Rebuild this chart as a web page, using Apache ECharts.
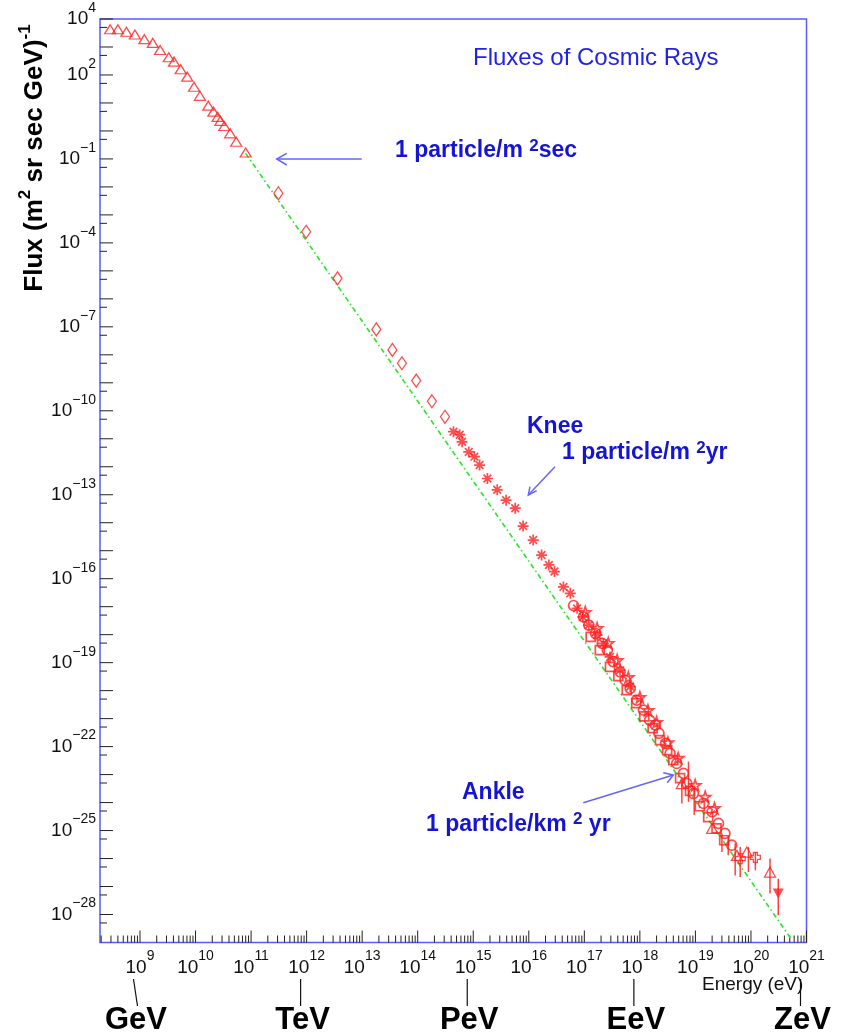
<!DOCTYPE html>
<html><head><meta charset="utf-8">
<script src="https://cdn.jsdelivr.net/npm/echarts@6/dist/echarts.min.js"></script>
<style>html,body{margin:0;padding:0;background:#fff}#c{width:844px;height:1035px}</style>
</head><body><div id="c"></div>
<script>
// Energy in eV, flux in (m^2 sr sec GeV)^-1
const triE = [2.9e8, 4.0e8, 5.7e8, 8.1e8, 1.2e9, 1.7e9, 2.3e9, 3.3e9, 4.1e9, 5.4e9, 7.1e9, 9.4e9, 1.2e10, 1.7e10, 2.1e10, 2.5e10, 2.8e10, 3.3e10, 4.2e10, 5.4e10, 8.0e10];
const triF = [4.3e3, 4.3e3, 3.5e3, 2.8e3, 1.9e3, 1.4e3, 7.8e2, 4.3e2, 3.0e2, 1.6e2, 87, 38, 18, 8.0, 4.9, 3.2, 2.3, 1.5, 0.82, 0.41, 0.17];

const diaE = [3.1e11, 9.8e11, 3.6e12, 1.8e13, 3.5e13, 5.2e13, 9.4e13, 1.8e14, 3.1e14];
const diaF = [5.9e-3, 2.5e-4, 5.4e-6, 8.1e-8, 1.5e-8, 5.0e-9, 1.2e-9, 2.2e-10, 6.1e-11];

const astE = [4.4e14, 5.7e14, 6.3e14, 8.3e14, 1.05e15, 1.3e15, 1.8e15, 2.7e15, 3.9e15, 5.7e15, 7.9e15, 1.2e16, 1.7e16, 2.3e16, 2.9e16, 4.2e16, 5.6e16, 7.4e16, 9.4e16, 1.2e17, 1.7e17, 2.2e17, 2.9e17, 4.4e17, 6.7e17];
const astF = [1.8e-11, 1.4e-11, 7.8e-12, 3.4e-12, 2.3e-12, 1.15e-12, 3.8e-13, 1.5e-13, 6.4e-14, 3.3e-14, 7.6e-15, 2.4e-15, 7.0e-16, 3.1e-16, 1.8e-16, 5.1e-17, 3.0e-17, 8.7e-18, 4.3e-18, 2.2e-18, 9.6e-19, 4.9e-19, 1.6e-19, 5.4e-20, 1.4e-20];

const circE = [6.4e16, 9.7e16, 1.2e17, 1.6e17, 2.1e17, 2.6e17, 3.3e17, 4.4e17, 5.4e17, 6.7e17, 8.8e17, 1.16e18, 1.5e18, 1.9e18, 2.2e18, 2.9e18, 3.5e18, 4.6e18, 6.1e18, 7.0e18, 9.2e18, 1.4e19, 2.0e19, 2.6e19, 3.4e19, 4.5e19];
const circF = [1.1e-17, 4.3e-18, 2.2e-18, 1.1e-18, 4.9e-19, 2.8e-19, 1.1e-19, 4.7e-20, 2.4e-20, 1.2e-20, 4.6e-21, 2.0e-21, 8.8e-22, 5.9e-22, 3.0e-22, 1.3e-22, 5.7e-23, 2.5e-23, 1.1e-23, 4.8e-24, 2.1e-24, 9.3e-25, 4.7e-25, 1.8e-25, 7.9e-26, 3.0e-26];

const sqE = [1.3e17, 1.9e17, 2.9e17, 4.1e17, 5.8e17, 8.6e17, 1.2e18, 1.7e18, 2.3e18, 3.1e18, 4.0e18, 5.3e18, 8.0e18, 1.2e19, 1.7e19, 2.4e19, 3.3e19];
const sqF = [8.4e-19, 2.8e-19, 7.1e-20, 3.3e-20, 1.04e-20, 3.6e-21, 1.2e-21, 4.6e-22, 1.7e-22, 7.5e-23, 3.3e-23, 7.5e-24, 2.6e-24, 7.4e-25, 3.0e-25, 1.2e-25, 4.5e-26];

const starE = [1.04e17, 1.7e17, 2.7e17, 3.9e17, 6.2e17, 1.0e18, 1.4e18, 2.0e18, 3.2e18, 4.9e18, 9.9e18, 1.5e19, 2.2e19];
const starF = [6.4e-18, 1.7e-18, 5.0e-19, 1.23e-19, 3.0e-20, 5.8e-21, 2.0e-21, 7.5e-22, 1.4e-22, 3.9e-23, 4.2e-24, 1.6e-24, 6.3e-25];

const otE = [5.7e18, 2.0e19, 5.6e19, 8.4e19, 2.2e20];
const otF = [4.8e-24, 1.2e-25, 1.3e-26, 1.7e-26, 3.3e-27];

const crE = [6.4e19, 1.2e20];
const crF = [1.0e-26, 1.1e-26];

const dnE = [3.1e20];
const dnF = [5.6e-28];

const errE  = [5.7e18, 7.5e18, 9.5e18, 3.0e19, 3.9e19, 5.2e19, 6.4e19, 9.0e19, 1.2e20, 2.2e20, 3.1e20];
const errHi = [4.8e-24, 2.9e-23, 3.6e-24, 7.9e-26, 6.0e-26, 3.5e-26, 2.6e-26, 2.6e-26, 1.7e-26, 1.0e-26, 1.9e-27];
const errLo = [9.3e-25, 1.06e-24, 3.6e-25, 1.7e-26, 1.3e-26, 2.5e-27, 2.2e-27, 3.3e-27, 3.8e-27, 5.6e-28, 9.5e-29];

const lineE = [8.0e10, 5.5e20];
const lineF = [0.158, 1.2e-29];

const unitNames = ['GeV', 'TeV', 'PeV', 'EeV', 'ZeV'];
const unitExp = [9, 12, 15, 18, 21];

// ---------------------------------------------------------------
const L = Math.log10;
const pairs = (E, F) => E.map((e, i) => [L(e), L(F[i])]);
const X_MIN = 8.28, X_MAX = 21, Y_MIN = -29, Y_MAX = 4;
const FONT = '"Liberation Sans", Arial, Helvetica, sans-serif';
const RED = '#ff1f1f';
const BLUE = '#1414d2';
const ARROW = '#6464ff';
const FRAME = '#5a5aff';
const openStyle = { color: 'rgba(0,0,0,0)', borderColor: RED, borderWidth: 1.3 };
const boldOpen = { color: 'rgba(0,0,0,0)', borderColor: RED, borderWidth: 1.7 };

function axisRich(base, sup, P) {
  const h = sup + P;
  return {
    b: { fontSize: base, fontFamily: FONT, color: '#111', verticalAlign: 'middle', lineHeight: h },
    s: { fontSize: sup, fontFamily: FONT, color: '#111', verticalAlign: 'middle', lineHeight: h, padding: [0, 0, P, 0] }
  };
}
function gRich(base, sup, P, fill, weight) {
  const h = sup + P;
  return {
    b: { fontSize: base, fontFamily: FONT, fontWeight: weight, fill: fill, verticalAlign: 'middle', lineHeight: h },
    s: { fontSize: sup, fontFamily: FONT, fontWeight: weight, fill: fill, verticalAlign: 'middle', lineHeight: h, padding: [0, 0, P, 0] }
  };
}

const xTicks = [];
for (let d = 8; d <= 20; d++) for (let m = 1; m <= 9; m++) {
  const v = d + L(m);
  if (v >= X_MIN && v <= X_MAX) xTicks.push([v, Y_MIN, m === 1 ? 12 : 7]);
}
xTicks.push([21, Y_MIN, 12]);
const yTicks = [];
for (let n = -28; n <= 4; n++) {
  yTicks.push([X_MIN, n, 13]);
  yTicks.push([X_MIN, n - L(2), 7]);
}

const asterisk = 'path://M5 0L5 10M0 5L10 5M1.5 1.5L8.5 8.5M1.5 8.5L8.5 1.5';
const openCross = 'path://M3 0H7V3H10V7H7V10H3V7H0V3H3Z';
const openStar = 'path://M5 0L6.2 3.6H10L7 5.9L8.1 9.5L5 7.3L1.9 9.5L3 5.9L0 3.6H3.8Z';

const chart = echarts.init(document.getElementById('c'), null, { renderer: 'canvas' });
const option = {
  animation: false,
  backgroundColor: '#fff',
  grid: { left: 100, right: 37.5, top: 19, bottom: 92.5, show: true, borderColor: FRAME, borderWidth: 1.5, backgroundColor: 'rgba(0,0,0,0)', outerBoundsMode: 'none', containLabel: false },
  xAxis: {
    type: 'value', min: X_MIN, max: X_MAX, splitNumber: 13,
    axisLine: { show: false }, axisTick: { show: false }, splitLine: { show: false },
    axisLabel: {
      margin: 7, hideOverlap: false,
      formatter: v => Math.abs(v - Math.round(v)) < 1e-6 ? '{b|10}{s|' + Math.round(v) + '}' : '',
      rich: axisRich(19, 14, 22)
    }
  },
  yAxis: {
    type: 'value', min: Y_MIN, max: Y_MAX, interval: 1,
    axisLine: { show: false }, axisTick: { show: false }, splitLine: { show: false },
    axisLabel: {
      margin: 4, hideOverlap: false,
      formatter: v => {
        const n = Math.round(v);
        if (Math.abs(v - n) > 1e-6) return '';
        if (n === 4 || ((n % 3) + 3) % 3 === 2) return '{b|10}{s|' + (n < 0 ? '\u2212' + (-n) : n) + '}';
        return '';
      },
      rich: axisRich(19, 14, 22)
    }
  },
  series: [
    {
      type: 'custom', name: 'xticks', data: xTicks, encode: { x: 0, y: 1 }, z: 2, silent: true, clip: false,
      renderItem: (p, api) => {
        const pt = api.coord([api.value(0), Y_MIN]);
        return { type: 'line', shape: { x1: pt[0], y1: pt[1], x2: pt[0], y2: pt[1] - api.value(2) }, style: { stroke: '#222', lineWidth: 1 } };
      }
    },
    {
      type: 'custom', name: 'yticks', data: yTicks, encode: { x: 0, y: 1 }, z: 2, silent: true, clip: false,
      renderItem: (p, api) => {
        const pt = api.coord([X_MIN, api.value(1)]);
        return { type: 'line', shape: { x1: pt[0], y1: pt[1], x2: pt[0] + api.value(2), y2: pt[1] }, style: { stroke: '#222', lineWidth: 1 } };
      }
    },
    {
      type: 'line', name: 'power law', data: pairs(lineE, lineF), symbol: 'none', z: 3, silent: true,
      lineStyle: { color: '#2fe62f', width: 1.7, type: [5, 3, 1.5, 3] }
    },
    {
      type: 'custom', name: 'errors', z: 4, silent: true,
      data: errE.map((e, i) => [L(e), L(errLo[i]), L(errHi[i])]), encode: { x: 0, y: [1, 2] },
      renderItem: (p, api) => {
        const a = api.coord([api.value(0), api.value(1)]);
        const b = api.coord([api.value(0), api.value(2)]);
        return { type: 'line', shape: { x1: a[0], y1: a[1], x2: b[0], y2: b[1] }, style: { stroke: RED, lineWidth: 1.5, opacity: 0.85 } };
      }
    },
    { type: 'scatter', name: 'triangles', data: pairs(triE, triF), symbol: 'triangle', symbolSize: [11, 9], itemStyle: openStyle, z: 5, silent: true },
    { type: 'scatter', name: 'diamonds', data: pairs(diaE, diaF), symbol: 'diamond', symbolSize: [9, 13], itemStyle: openStyle, z: 5, silent: true },
    { type: 'scatter', name: 'circles', data: pairs(circE, circF), symbol: 'circle', symbolSize: 10, itemStyle: boldOpen, z: 5, silent: true },
    { type: 'scatter', name: 'squares', data: pairs(sqE, sqF), symbol: 'rect', symbolSize: 9, itemStyle: boldOpen, z: 5, silent: true },
    { type: 'scatter', name: 'stars', data: pairs(starE, starF), symbol: openStar, symbolSize: 11, itemStyle: boldOpen, z: 5, silent: true },
    { type: 'scatter', name: 'asterisks', data: pairs(astE, astF), symbol: asterisk, symbolSize: 11, itemStyle: { color: 'rgba(0,0,0,0)', borderColor: RED, borderWidth: 1.7 }, z: 6, silent: true },
    { type: 'scatter', name: 'open triangles', data: pairs(otE, otF), symbol: 'triangle', symbolSize: [11, 10], itemStyle: openStyle, z: 6, silent: true },
    { type: 'scatter', name: 'crosses', data: pairs(crE, crF), symbol: openCross, symbolSize: 10, itemStyle: openStyle, z: 6, silent: true },
    { type: 'scatter', name: 'upper', data: pairs(dnE, dnF), symbol: 'triangle', symbolRotate: 180, symbolSize: [11, 10], itemStyle: { color: RED }, z: 6, silent: true }
  ]
};
chart.setOption(option);

function arrow(x1, y1, x2, y2, w1, w2) {
  return [
    { type: 'line', shape: { x1, y1, x2, y2 }, style: { stroke: ARROW, lineWidth: 1.5 }, silent: true },
    { type: 'polyline', shape: { points: [w1, [x2, y2], w2] }, style: { stroke: ARROW, lineWidth: 1.5, fill: null }, silent: true }
  ];
}
function txt(x, y, text, font, fill, align) {
  return { type: 'text', x, y, silent: true, style: { text, font, fill, textAlign: align || 'left', align: align || 'left', textVerticalAlign: 'middle', verticalAlign: 'middle' } };
}
function richTxt(x, y, text, rich, align, rotation) {
  return { type: 'text', x, y, rotation: rotation || 0, silent: true, style: { text, rich, textAlign: align || 'left', align: align || 'left', textVerticalAlign: 'middle', verticalAlign: 'middle' } };
}

const els = [];
els.push(txt(473, 58, 'Fluxes of Cosmic Rays', '24px ' + FONT, '#2222e6'));
els.push(richTxt(395, 151, '{b|1 particle/m }{s|2}{b|sec}', gRich(23, 17, 10, BLUE, 'bold')));
els.push(...arrow(361.7, 159, 276.7, 159, [286.7, 153.3], [286.7, 165]));
els.push(txt(527, 426.5, 'Knee', 'bold 23px ' + FONT, BLUE));
els.push(richTxt(562, 453, '{b|1 particle/m }{s|2}{b|yr}', gRich(23, 17, 10, BLUE, 'bold')));
els.push(...arrow(555, 466.7, 528.3, 495, [530, 486.7], [536.7, 490.7]));
els.push(txt(462, 793, 'Ankle', 'bold 23px ' + FONT, BLUE));
els.push(richTxt(426, 825, '{b|1 particle/km }{s|2}{b| yr}', gRich(23, 17, 12, BLUE, 'bold')));
els.push(...arrow(583.3, 802.7, 673.3, 775, [663.3, 772.7], [667.3, 782.7]));
els.push(richTxt(35, 158, '{b|Flux (m}{s|2}{b| sr sec GeV)}{s|-1}', gRich(26, 17, 20, '#000', 'bold'), 'center', Math.PI / 2));
els.push(txt(702, 985, 'Energy (eV)', '19px ' + FONT, '#111'));

unitNames.forEach((u, i) => {
  const px = chart.convertToPixel({ xAxisIndex: 0 }, unitExp[i]);
  const top = i === 0 ? px - 6.5 : px - 6;
  const bot = i === 0 ? px - 2.5 : px - 6;
  els.push({ type: 'line', silent: true, shape: { x1: top, y1: 979, x2: bot, y2: 1006 }, style: { stroke: '#111', lineWidth: 1.2 } });
  els.push(txt(px - 4, 1020, u, 'bold 31px ' + FONT, '#000', 'center'));
});

chart.setOption({ graphic: { elements: els } });
</script>
</body></html>
